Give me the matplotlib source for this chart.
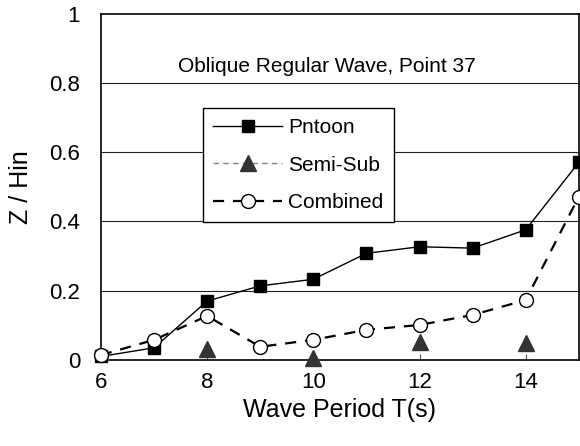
import numpy as np
import matplotlib
matplotlib.use("Agg")
import matplotlib.pyplot as plt
from matplotlib.patches import Rectangle

plt.rcParams['font.family'] = ['Liberation Sans', 'DejaVu Sans']

periods = [6, 7, 8, 9, 10, 11, 12, 13, 14, 15]
pntoon = [0.010, 0.035, 0.170, 0.214, 0.233, 0.308, 0.327, 0.323, 0.376, 0.571]
semisub = [np.nan, np.nan, 0.033, np.nan, 0.005, np.nan, 0.053, np.nan, 0.048, np.nan]
combined = [0.014, 0.058, 0.127, 0.038, 0.058, 0.087, 0.101, 0.130, 0.173, 0.472]

xticks = [6, 8, 10, 12, 14]
yticks = [0, 0.2, 0.4, 0.6, 0.8, 1.0]
ytick_labels = ['0', '0.2', '0.4', '0.6', '0.8', '1']

fig = plt.figure(figsize=(5.8, 4.46), dpi=100)
ax = fig.add_axes([0.174, 0.193, 0.824, 0.776])

for y in yticks[1:-1]:
    ax.axhline(y, color='#222222', lw=0.8, zorder=1)

clip = Rectangle((-0.1, -0.1), 1.1, 1.2, transform=ax.transAxes, visible=False)
ax.add_patch(clip)

l1, = ax.plot(periods, pntoon, color='black', lw=1.0, marker='s', markersize=8.5,
              markerfacecolor='black', markeredgecolor='black', label='Pntoon', zorder=3)
l2, = ax.plot(periods, semisub, color='#808080', lw=1.0, ls=(0, (4, 3)), marker='^',
              markersize=11, markerfacecolor='#333333', markeredgecolor='#333333',
              label='Semi-Sub', zorder=3)
l3, = ax.plot(periods, combined, color='black', lw=1.6, ls=(0, (5, 4)), marker='o',
              markersize=10, markerfacecolor='white', markeredgecolor='black',
              markeredgewidth=1.0, label='Combined', zorder=4)
for ln in (l1, l2, l3):
    ln.set_clip_path(clip)

ax.set_xlim(6, 15)
ax.set_ylim(0, 1)
ax.set_xticks(xticks)
ax.set_yticks(yticks)
ax.set_yticklabels(ytick_labels)
ax.tick_params(axis='x', direction='in', length=4, width=0.8, pad=9, labelsize=16, color='#555555')
ax.tick_params(axis='y', length=0, pad=15, labelsize=16)
for s in ax.spines.values():
    s.set_linewidth(1.2)
    s.set_color('black')

ax.set_xlabel('Wave Period T(s)', fontsize=18, labelpad=3)
ax.set_ylabel('Z / Hin', fontsize=18, labelpad=12)

ax.text(0.473, 0.847, 'Oblique Regular Wave, Point 37', transform=ax.transAxes,
        ha='center', va='center', fontsize=15)

leg = ax.legend(loc='upper left', bbox_to_anchor=(0.213, 0.728), fontsize=15,
                frameon=True, fancybox=False, edgecolor='black', framealpha=1,
                borderaxespad=0, handlelength=3.3, handletextpad=0.3,
                labelspacing=0.88, borderpad=0.5)
leg.get_frame().set_linewidth(1.0)
leg.set_zorder(5)

fig.savefig('out.png', dpi=100)
